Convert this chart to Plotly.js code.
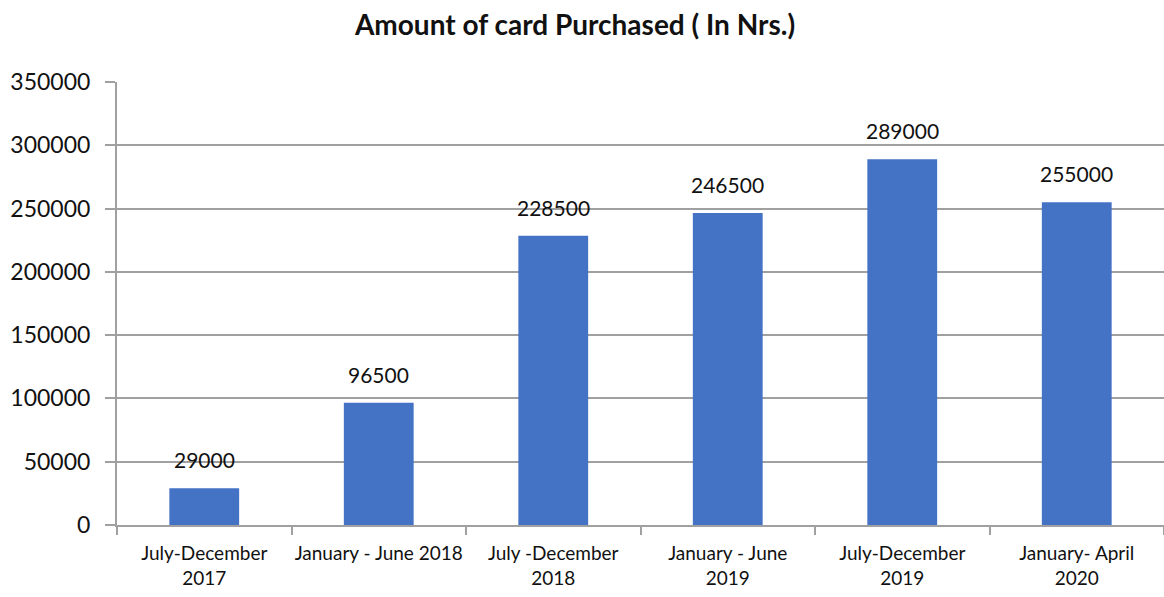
<!DOCTYPE html>
<html>
<head>
<meta charset="utf-8">
<script src="https://cdn.plot.ly/plotly-3.0.1.min.js"></script>
<style>html,body{margin:0;padding:0;background:#fff;}#chart{width:1164px;height:597px;}</style>
</head>
<body>
<div id="chart"></div>
<script>
const categories = [
  "July-December<br>2017",
  "January - June 2018",
  "July -December<br>2018",
  "January - June<br>2019",
  "July-December<br>2019",
  "January- April<br>2020"
];
const amounts = [29000, 96500, 228500, 246500, 289000, 255000];
const valueLabels = ["29000", "96500", "228500", "246500", "289000", "255000"];
const yTicks = [0, 50000, 100000, 150000, 200000, 250000, 300000, 350000];
const yTickText = ["0", "50000", "100000", "150000", "200000", "250000", "300000", "350000"];
const chartTitle = "Amount of card Purchased ( In Nrs.)";

const FONT = "Lato, 'Open Sans', sans-serif";

const trace = {
  type: "bar",
  x: categories,
  y: amounts,
  width: 0.4,
  marker: {color: "#4472C4"},
  hoverinfo: "none"
};

const annotations = categories.map((c, i) => ({
  x: c, y: amounts[i], xref: "x", yref: "y",
  text: valueLabels[i], showarrow: false,
  yanchor: "bottom", yshift: 14,
  font: {family: FONT, size: 21, color: "#111"}
}));

const layout = {
  width: 1164, height: 597,
  margin: {l: 117, r: 0, t: 82, b: 72},
  paper_bgcolor: "#fff", plot_bgcolor: "#fff",
  title: {text: "<b>" + chartTitle + "</b>", x: 0.494, xanchor: "center", y: 0.958, yanchor: "middle",
          font: {family: FONT, size: 28, color: "#111"}},
  showlegend: false,
  xaxis: {
    type: "category",
    range: [-0.5, 5.5],
    showline: true, linecolor: "#a0a0a0", linewidth: 2,
    ticks: "outside", ticklen: 8, tickcolor: "#a0a0a0", tickwidth: 2,
    tickson: "boundaries",
    tickangle: 0,
    ticklabelstandoff: 10,
    showgrid: false,
    tickfont: {family: FONT, size: 19, color: "#111"},
    automargin: false
  },
  yaxis: {
    range: [0, 350000],
    tickvals: yTicks, ticktext: yTickText,
    showline: true, linecolor: "#a0a0a0", linewidth: 2,
    ticks: "outside", ticklen: 10, tickcolor: "#a0a0a0", tickwidth: 2,
    ticklabelstandoff: 10,
    showgrid: true, gridcolor: "#a0a0a0", gridwidth: 2,
    zeroline: false,
    tickfont: {family: FONT, size: 23, color: "#111"},
    automargin: false
  },
  annotations: annotations
};

Plotly.newPlot("chart", [trace], layout, {staticPlot: true, displayModeBar: false});
</script>
</body>
</html>
